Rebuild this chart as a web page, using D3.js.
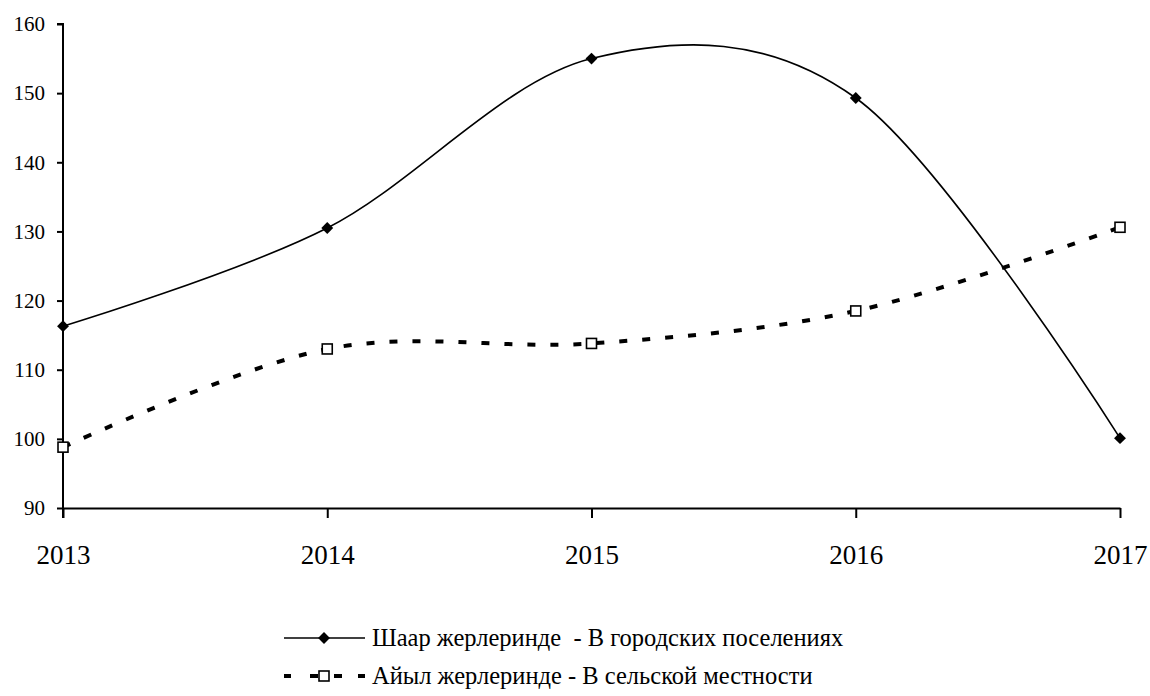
<!DOCTYPE html>
<html>
<head>
<meta charset="utf-8">
<script src="https://cdn.jsdelivr.net/npm/d3@7"></script>
</head>
<body style="margin:0">
<script>
// Data
const years = ["2013", "2014", "2015", "2016", "2017"];
const urban = [116.3, 130.5, 155.0, 149.3, 100.1];
const rural = [98.8, 113.0, 113.8, 118.5, 130.6];
const yTicks = [90, 100, 110, 120, 130, 140, 150, 160];
const urbanLabel = "Шаар жерлеринде  - В городских поселениях";
const ruralLabel = "Айыл жерлеринде - В сельской местности";

const FONT = "Liberation Serif";

// SVG setup
const svg = d3.select("body")
  .append("svg")
    .attr("width", 1150)
    .attr("height", 696)
    .attr("font-family", FONT)
    .style("font-family", `"${FONT}"`);

const x = d3.scalePoint()
  .domain(years)
  .range([63, 1120]);

const y = d3.scaleLinear()
  .domain([90, 160])
  .range([508, 24]);

const setFont = (sel, size) => sel
  .attr("font-family", FONT)
  .style("font-family", `"${FONT}"`)
  .style("font-size", size + "px")
  .attr("fill", "#000");

// Axes
const yAxis = svg.append("g")
  .attr("transform", "translate(63,0)")
  .call(d3.axisLeft(y).tickValues(yTicks).tickSize(6).tickPadding(12))
  .attr("font-family", FONT);
yAxis.select(".domain").attr("stroke", "#000").attr("stroke-width", 2)
  .attr("d", `M-6,${y(160)}H0V518`);
yAxis.selectAll(".tick line").attr("stroke-width", 2);
setFont(yAxis.selectAll(".tick text"), 21);

const xAxis = svg.append("g")
  .attr("transform", `translate(0,${y(90)})`)
  .call(d3.axisBottom(x).tickSize(10).tickPadding(27).tickSizeOuter(0))
  .attr("font-family", FONT);
xAxis.select(".domain").attr("stroke", "#000").attr("stroke-width", 2);
xAxis.selectAll(".tick line").attr("stroke-width", 2);
setFont(xAxis.selectAll(".tick text"), 27);

// Lines
const line = d3.line()
  .x((d, i) => x(years[i]))
  .y(d => y(d))
  .curve(d3.curveCatmullRom.alpha(0));

svg.append("path")
  .datum(urban)
  .attr("fill", "none")
  .attr("stroke", "#000")
  .attr("stroke-width", 1.6)
  .attr("d", line);

svg.append("path")
  .datum(rural)
  .attr("fill", "none")
  .attr("stroke", "#000")
  .attr("stroke-width", 4)
  .attr("stroke-dasharray", "8 15")
  .attr("d", line);

// Markers
const diamond = d3.symbol().type(d3.symbolDiamond2).size(90);

svg.selectAll("path.urb")
  .data(urban)
  .enter().append("path")
    .attr("class", "urb")
    .attr("transform", (d, i) => `translate(${x(years[i])},${y(d)})`)
    .attr("d", diamond)
    .attr("fill", "#000");

svg.selectAll("rect.rur")
  .data(rural)
  .enter().append("rect")
    .attr("class", "rur")
    .attr("x", (d, i) => x(years[i]) - 5)
    .attr("y", d => y(d) - 5)
    .attr("width", 10)
    .attr("height", 10)
    .attr("fill", "#fff")
    .attr("stroke", "#000")
    .attr("stroke-width", 1.6);

// Legend
const legend = svg.append("g").attr("transform", "translate(284,0)");

legend.append("line")
  .attr("x1", 0).attr("x2", 81).attr("y1", 638).attr("y2", 638)
  .attr("stroke", "#000").attr("stroke-width", 1.6);
legend.append("path")
  .attr("transform", "translate(40,638)")
  .attr("d", diamond)
  .attr("fill", "#000");
setFont(legend.append("text"), 24.5)
  .attr("x", 88).attr("y", 646)
  .style("white-space", "pre")
  .text(urbanLabel);

legend.append("line")
  .attr("x1", 0).attr("x2", 81).attr("y1", 676).attr("y2", 676)
  .attr("stroke", "#000").attr("stroke-width", 4)
  .attr("stroke-dasharray", "7 19 8 0 0 16 8 16 7");
legend.append("rect")
  .attr("x", 35).attr("y", 671).attr("width", 10).attr("height", 10)
  .attr("fill", "#fff").attr("stroke", "#000").attr("stroke-width", 1.6);
setFont(legend.append("text"), 24.5)
  .attr("x", 88).attr("y", 684)
  .style("white-space", "pre")
  .text(ruralLabel);
</script>
</body>
</html>
